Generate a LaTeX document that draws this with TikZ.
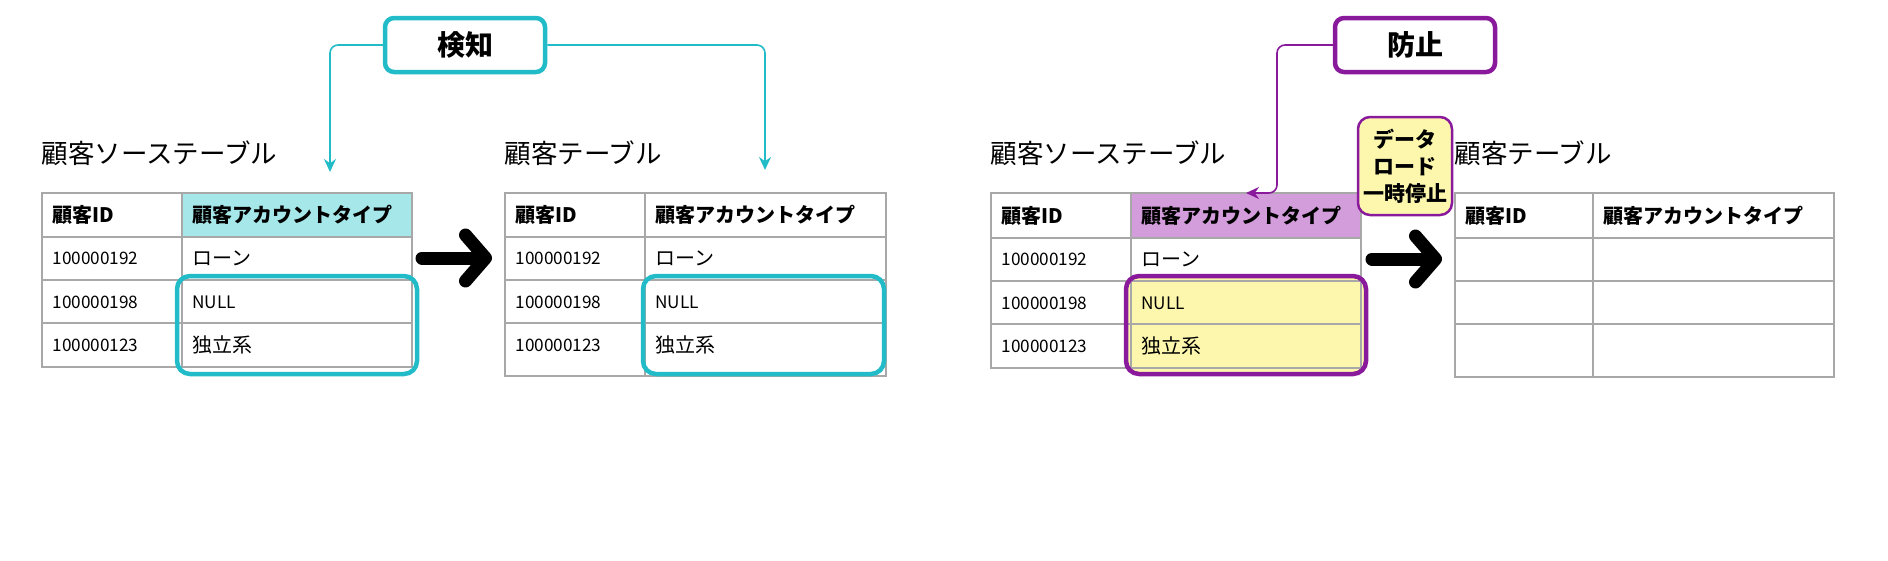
\documentclass[tikz,border=0pt]{standalone}
\usepackage{fontspec}
\setmainfont{Noto Sans CJK JP}
\usetikzlibrary{arrows.meta,positioning}

\definecolor{detectcyan}{HTML}{22BCC8}
\definecolor{cyanfill}{HTML}{A6E7EA}
\definecolor{stoppurple}{HTML}{8A1A9C}
\definecolor{purplefill}{HTML}{D39CDB}
\definecolor{pauseyellow}{HTML}{FDF7AE}
\definecolor{gridgray}{HTML}{A8A8A8}

\begin{document}
\begin{tikzpicture}[
    % Work in pixels of the reference, y pointing down
    x=1pt, y=-1pt,
    % Define styles for the elements
    cell_line/.style={draw=gridgray, line width=1.6pt},
    head_text/.style={anchor=west, font=\bfseries\fontsize{20}{20}\selectfont},
    id_text/.style={anchor=west, font=\fontsize{17.2}{17}\selectfont},
    jp_text/.style={anchor=west, font=\fontsize{20}{20}\selectfont},
    title_text/.style={anchor=west, font=\fontsize{26.5}{26}\selectfont},
    tag_box/.style={draw, line width=4.5pt, rounded corners=9pt, fill=white,
      minimum width=160pt, minimum height=54pt, font=\bfseries\fontsize{28}{28}\selectfont},
    link_line/.style={line width=1.6pt, rounded corners=8pt, -{Stealth[length=13pt, width=12pt]}},
    big_arrow/.style={line width=13pt, line cap=round, line join=round,
      -{Straight Barb[length=20pt, width=46pt, round]}}
  ]

  \useasboundingbox (0,0) rectangle (1888,560);

  % --- Step 1: left pair of tables (detection) ---

  % Header fill of the checked column
  \fill[cyanfill] (182,193) rectangle (412,237);

  % Grid of the source table
  \draw[cell_line] (42,193) rectangle (412,367);
  \draw[cell_line] (182,193) -- (182,367);
  \foreach \y in {237,280,323}
    \draw[cell_line] (42,\y) -- (412,\y);

  % Grid of the target table
  \draw[cell_line] (505,193) rectangle (886,376);
  \draw[cell_line] (645,193) -- (645,376);
  \foreach \y in {237,280,323}
    \draw[cell_line] (505,\y) -- (886,\y);

  \node[title_text] (src_title) at (38,153) {顧客ソーステーブル};
  \node[title_text] (dst_title) at (501,153) {顧客テーブル};

  % Texts of the source table
  \node[head_text] (src_h_id) at (49,215) {顧客ID};
  \node[head_text] (src_h_type) at (189,215) {顧客アカウントタイプ};
  \node[id_text] (src_r1_id) at (49,258) {100000192};
  \node[jp_text] (src_r1_type) at (189,258) {ローン};
  \node[id_text] (src_r2_id) at (49,302) {100000198};
  \node[id_text] (src_r2_type) at (189,302) {NULL};
  \node[id_text] (src_r3_id) at (49,345) {100000123};
  \node[jp_text] (src_r3_type) at (189,345) {独立系};

  % Texts of the target table
  \node[head_text] (dst_h_id) at (512,215) {顧客ID};
  \node[head_text] (dst_h_type) at (652,215) {顧客アカウントタイプ};
  \node[id_text] (dst_r1_id) at (512,258) {100000192};
  \node[jp_text] (dst_r1_type) at (652,258) {ローン};
  \node[id_text] (dst_r2_id) at (512,302) {100000198};
  \node[id_text] (dst_r2_type) at (652,302) {NULL};
  \node[id_text] (dst_r3_id) at (512,345) {100000123};
  \node[jp_text] (dst_r3_type) at (652,345) {独立系};

  % Outlines of the bad values
  \draw[detectcyan, line width=4.5pt, rounded corners=13pt] (177,276) rectangle (417,374);
  \draw[detectcyan, line width=4.5pt, rounded corners=13pt] (643,276) rectangle (884,374);

  % Load arrow
  \coordinate (load1_from) at (422,258);
  \coordinate (load1_to) at (492,258);
  \draw[big_arrow] (load1_from) -- (load1_to);

  % Detection tag and its links
  \node[tag_box, draw=detectcyan] (detect) at (465,45) {検知};
  \coordinate (src_in) at (330,172);
  \coordinate (dst_in) at (765,170);
  \draw[link_line, detectcyan] (detect.west) -| (src_in);
  \draw[link_line, detectcyan] (detect.east) -| (dst_in);

  % --- Step 2: right pair of tables (prevention) ---

  \fill[purplefill] (1131,193) rectangle (1361,238);
  \fill[pauseyellow, rounded corners=13pt] (1126,276) rectangle (1366,374);

  % Grid of the source table
  \draw[cell_line] (991,193) rectangle (1361,368);
  \draw[cell_line] (1131,193) -- (1131,368);
  \foreach \y in {238,281,324}
    \draw[cell_line] (991,\y) -- (1361,\y);

  % Grid of the empty target table
  \draw[cell_line] (1455,193) rectangle (1834,377);
  \draw[cell_line] (1593,193) -- (1593,377);
  \foreach \y in {238,281,324}
    \draw[cell_line] (1455,\y) -- (1834,\y);

  \node[title_text] (src2_title) at (987,153) {顧客ソーステーブル};
  \node[title_text] (dst2_title) at (1451,153) {顧客テーブル};

  % Texts of the source table
  \node[head_text] (src2_h_id) at (998,216) {顧客ID};
  \node[head_text] (src2_h_type) at (1138,216) {顧客アカウントタイプ};
  \node[id_text] (src2_r1_id) at (998,259) {100000192};
  \node[jp_text] (src2_r1_type) at (1138,259) {ローン};
  \node[id_text] (src2_r2_id) at (998,303) {100000198};
  \node[id_text] (src2_r2_type) at (1138,303) {NULL};
  \node[id_text] (src2_r3_id) at (998,346) {100000123};
  \node[jp_text] (src2_r3_type) at (1138,346) {独立系};

  % Texts of the target table
  \node[head_text] (dst2_h_id) at (1462,216) {顧客ID};
  \node[head_text] (dst2_h_type) at (1600,216) {顧客アカウントタイプ};

  \draw[stoppurple, line width=4.5pt, rounded corners=13pt] (1126,276) rectangle (1366,374);

  % Paused load
  \coordinate (load2_from) at (1372,259);
  \coordinate (load2_to) at (1442,259);
  \draw[big_arrow] (load2_from) -- (load2_to);

  \node[draw=stoppurple, fill=pauseyellow, line width=2.5pt, rounded corners=12pt,
    minimum width=94pt, minimum height=98pt, inner sep=2pt, align=center,
    font=\bfseries\fontsize{21}{27}\selectfont] (pause) at (1405,166) {データ\\ロード\\一時停止};

  % Prevention tag and its link
  \node[tag_box, draw=stoppurple] (prevent) at (1415,45) {防止};
  \coordinate (stop_turn) at (1277,193);
  \coordinate (stop_in) at (1246,193);
  \draw[link_line, stoppurple] (prevent.west) -| (stop_turn) -- (stop_in);

\end{tikzpicture}
\end{document}
